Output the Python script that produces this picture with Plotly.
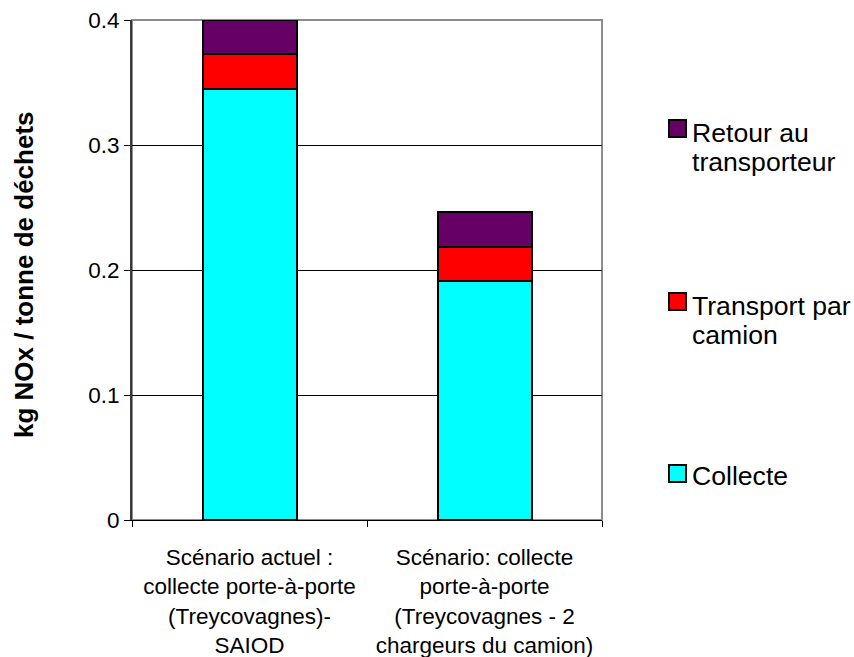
import plotly.graph_objects as go

# Scenario labels (x categories)
scenarios = [
    "Scénario actuel :<br>collecte porte-à-porte<br>(Treycovagnes)-<br>SAIOD",
    "Scénario: collecte<br>porte-à-porte<br>(Treycovagnes - 2<br>chargeurs du camion)",
]

# Stacked contributions, kg NOx per tonne of waste
collecte = [0.345, 0.191]
transport_camion = [0.028, 0.0275]
retour_transporteur = [0.027, 0.028]

series_names = ["Collecte", "Transport par camion", "Retour au transporteur"]
legend_lines = [["Collecte"], ["Transport par", "camion"], ["Retour au", "transporteur"]]
series_colors = ["#00FFFF", "#FF0000", "#660066"]
series_values = [collecte, transport_camion, retour_transporteur]

y_ticks = [0, 0.1, 0.2, 0.3, 0.4]
y_tick_text = ["0", "0.1", "0.2", "0.3", "0.4"]

W, H = 854, 657
L, R, T, B = 132, 602, 20, 520
FONT = "Liberation Sans, Arial, sans-serif"


def px_x(px):
    return (px - L) / (R - L)


def px_y(py):
    return (B - py) / (B - T)


fig = go.Figure()
for name, vals, col in zip(series_names, series_values, series_colors):
    fig.add_trace(go.Bar(
        x=scenarios, y=vals, name=name,
        marker=dict(color=col, line=dict(color="black", width=2)),
        showlegend=False, hoverinfo="name+y",
    ))

shapes = [
    # plot-area frame
    dict(type="rect", xref="paper", yref="paper", x0=0, x1=1, y0=0, y1=1,
         line=dict(color="#8c8c8c", width=2), layer="below"),
]
annotations = [
    dict(text="<b>kg NOx / tonne de déchets</b>", textangle=-90,
         xref="paper", yref="paper", x=px_x(24), y=px_y(275),
         xanchor="center", yanchor="middle", showarrow=False,
         font=dict(family=FONT, size=26, color="black")),
]

# legend: swatches and labels, top entry first
LINE_GAP = 29.4
legend_rows = [
    # (series index, swatch top px, first-line top px)
    (2, 120, 116),
    (1, 293, 289),
    (0, 465, 459),
]
for idx, sq_top, txt_top in legend_rows:
    shapes.append(dict(type="rect", xref="paper", yref="paper",
                       x0=px_x(669), x1=px_x(686), y0=px_y(sq_top + 17), y1=px_y(sq_top),
                       fillcolor=series_colors[idx], line=dict(color="black", width=2)))
    for k, line in enumerate(legend_lines[idx]):
        annotations.append(dict(text=line, xref="paper", yref="paper",
                                x=px_x(690), y=px_y(txt_top + k * LINE_GAP),
                                xanchor="left", yanchor="top",
                                align="left", showarrow=False,
                                font=dict(family=FONT, size=26.6, color="black")))

fig.update_layout(
    width=W, height=H,
    margin=dict(l=L, r=W - R, t=T, b=H - B, pad=0, autoexpand=False),
    barmode="stack", bargap=0.6,
    plot_bgcolor="white", paper_bgcolor="white",
    font=dict(family=FONT, color="black"),
    shapes=shapes, annotations=annotations,
    xaxis=dict(
        type="category", tickson="boundaries", ticks="outside", ticklen=6,
        tickcolor="black", tickwidth=1, automargin=False,
        showline=True, linecolor="black", linewidth=1,
        showgrid=False, tickfont=dict(family=FONT, size=22.5, color="black"),
        ticklabelstandoff=17,
    ),
    yaxis=dict(
        range=[0, 0.4], tickvals=y_ticks, ticktext=y_tick_text,
        ticks="outside", ticklen=6, tickcolor="black", tickwidth=1,
        automargin=False,
        showline=True, linecolor="#3a3a3a", linewidth=2,
        showgrid=True, gridcolor="black", gridwidth=1, zeroline=False,
        tickfont=dict(family=FONT, size=22.5, color="black"),
        ticklabelstandoff=0,
    ),
)

fig.write_html("out.html")
